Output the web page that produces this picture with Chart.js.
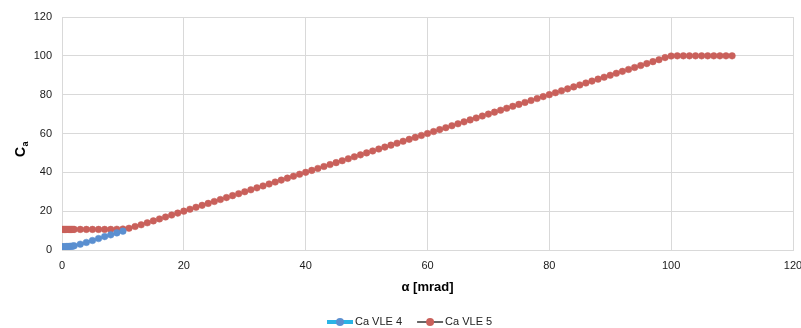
<!DOCTYPE html>
<html>
<head>
<meta charset="utf-8">
<script src="https://cdn.jsdelivr.net/npm/chart.js@4"></script>
<style>
  html, body { margin: 0; padding: 0; background: #fff; }
  #wrap { width: 801px; height: 328px; }
</style>
</head>
<body>
<div id="wrap"><canvas id="chart"></canvas></div>
<script>
const xTicks = [0, 20, 40, 60, 80, 100, 120];
const yTicks = [0, 20, 40, 60, 80, 100, 120];

const seriesNames = ["Ca VLE 4", "Ca VLE 5"];

const vle4X = [0, 0.2, 0.4, 0.6, 0.8, 1, 1.2, 1.4, 1.6, 1.8, 2, 3, 4, 5, 6, 7, 8, 9, 10];
const vle4Y = [1.7, 1.7, 1.7, 1.7, 1.8, 1.8, 1.8, 1.9, 1.9, 2.0, 2.2, 3.0, 3.9, 4.9, 5.9, 6.9, 7.8, 8.8, 9.7];

const vle5X = [0, 0.2, 0.4, 0.6, 0.8, 1, 1.2, 1.4, 1.6, 1.8, 2,
  3, 4, 5, 6, 7, 8, 9, 10, 11, 12, 13, 14, 15, 16, 17, 18, 19, 20,
  21, 22, 23, 24, 25, 26, 27, 28, 29, 30, 31, 32, 33, 34, 35, 36, 37, 38, 39, 40,
  41, 42, 43, 44, 45, 46, 47, 48, 49, 50, 51, 52, 53, 54, 55, 56, 57, 58, 59, 60,
  61, 62, 63, 64, 65, 66, 67, 68, 69, 70, 71, 72, 73, 74, 75, 76, 77, 78, 79, 80,
  81, 82, 83, 84, 85, 86, 87, 88, 89, 90, 91, 92, 93, 94, 95, 96, 97, 98, 99, 100,
  101, 102, 103, 104, 105, 106, 107, 108, 109, 110];
const vle5Y = [10.6, 10.6, 10.6, 10.6, 10.6, 10.6, 10.6, 10.6, 10.6, 10.6, 10.6,
  10.6, 10.6, 10.6, 10.6, 10.6, 10.6, 10.7, 10.8, 11.2, 12.1, 13, 14, 15, 16, 17, 18, 19, 20,
  21, 22, 23, 24, 25, 26, 27, 28, 29, 30, 31, 32, 33, 34, 35, 36, 37, 38, 39, 40,
  41, 42, 43, 44, 45, 46, 47, 48, 49, 50, 51, 52, 53, 54, 55, 56, 57, 58, 59, 60,
  61, 62, 63, 64, 65, 66, 67, 68, 69, 70, 71, 72, 73, 74, 75, 76, 77, 78, 79, 80,
  81, 82, 83, 84, 85, 86, 87, 88, 89, 90, 91, 92, 93, 94, 95, 96, 97, 98, 99.1, 99.9,
  100, 100, 100, 100, 100, 100, 100, 100, 100, 100];

const FONT = "'Liberation Sans', Arial, sans-serif";
const GRID = "#d9d9d9";

const pts = (xs, ys) => xs.map((x, i) => ({ x: x, y: ys[i] }));

/* legend: line with a dot on it, like the spreadsheet one */
const legendItems = [
  { text: seriesNames[0], line: "#2ab4e6", lineWidth: 4, dot: "#5a8fd0" },
  { text: seriesNames[1], line: "#333333", lineWidth: 1.5, dot: "#c9605b" }
];

const customLegend = {
  id: "customLegend",
  afterDraw(chart) {
    const { ctx } = chart;
    const y = 322;
    let x = 327;
    ctx.save();
    ctx.font = "11px " + FONT;
    ctx.textBaseline = "middle";
    legendItems.forEach(item => {
      ctx.strokeStyle = item.line;
      ctx.lineWidth = item.lineWidth;
      ctx.beginPath();
      ctx.moveTo(x, y);
      ctx.lineTo(x + 26, y);
      ctx.stroke();
      ctx.fillStyle = item.dot;
      ctx.beginPath();
      ctx.arc(x + 13, y, 4, 0, Math.PI * 2);
      ctx.fill();
      ctx.fillStyle = "#222";
      ctx.fillText(item.text, x + 28, y);
      x += 28 + ctx.measureText(item.text).width + 15;
    });
    ctx.restore();
  }
};

/* y title C with subscript a */
const yTitle = {
  id: "yTitle",
  afterDraw(chart) {
    const { ctx } = chart;
    ctx.save();
    ctx.translate(25, 157);
    ctx.rotate(-Math.PI / 2);
    ctx.fillStyle = "#000";
    ctx.textBaseline = "alphabetic";
    ctx.font = "bold 14px " + FONT;
    ctx.fillText("C", 0, 0);
    const w = ctx.measureText("C").width;
    ctx.font = "bold 9px " + FONT;
    ctx.fillText("a", w + 0.5, 3);
    ctx.restore();
  }
};

new Chart(document.getElementById("chart"), {
  type: "scatter",
  data: {
    datasets: [
      {
        label: seriesNames[0],
        data: pts(vle4X, vle4Y),
        showLine: true,
        borderColor: "#2ab4e6",
        borderWidth: 2,
        backgroundColor: "#5a8fd0",
        pointBackgroundColor: "#5a8fd0",
        pointBorderColor: "#5a8fd0",
        pointRadius: 3.3,
        pointBorderWidth: 0.5
      },
      {
        label: seriesNames[1],
        data: pts(vle5X, vle5Y),
        showLine: true,
        borderColor: "#c9605b",
        borderWidth: 1,
        backgroundColor: "#c9605b",
        pointBackgroundColor: "#c9605b",
        pointBorderColor: "#c9605b",
        pointRadius: 3.3,
        pointBorderWidth: 0.5
      }
    ]
  },
  options: {
    responsive: true,
    maintainAspectRatio: false,
    animation: false,
    layout: { padding: { left: 0, right: 8, top: 17, bottom: 28 } },
    plugins: {
      legend: { display: false },
      tooltip: { enabled: false }
    },
    scales: {
      x: {
        type: "linear",
        min: xTicks[0],
        max: xTicks[xTicks.length - 1],
        afterBuildTicks(scale) { scale.ticks = xTicks.map(v => ({ value: v })); },
        afterFit(scale) { scale.height = 50; scale.paddingRight = 0; scale.paddingLeft = 0; },
        grid: { color: GRID, drawTicks: false },
        border: { color: GRID },
        ticks: { padding: 9, color: "#1a1a1a", font: { family: FONT, size: 11 } },
        title: {
          display: true,
          text: "\u03b1 [mrad]",
          color: "#000",
          font: { family: FONT, size: 13, weight: "bold" },
          padding: { top: 0, bottom: 5 }
        }
      },
      y: {
        type: "linear",
        min: yTicks[0],
        max: yTicks[yTicks.length - 1],
        afterBuildTicks(scale) { scale.ticks = yTicks.map(v => ({ value: v })); },
        afterFit(scale) { scale.width = 62; },
        grid: { color: GRID, drawTicks: false },
        border: { color: GRID },
        ticks: { padding: 10, color: "#1a1a1a", font: { family: FONT, size: 11 } }
      }
    }
  },
  plugins: [customLegend, yTitle]
});
</script>
</body>
</html>
